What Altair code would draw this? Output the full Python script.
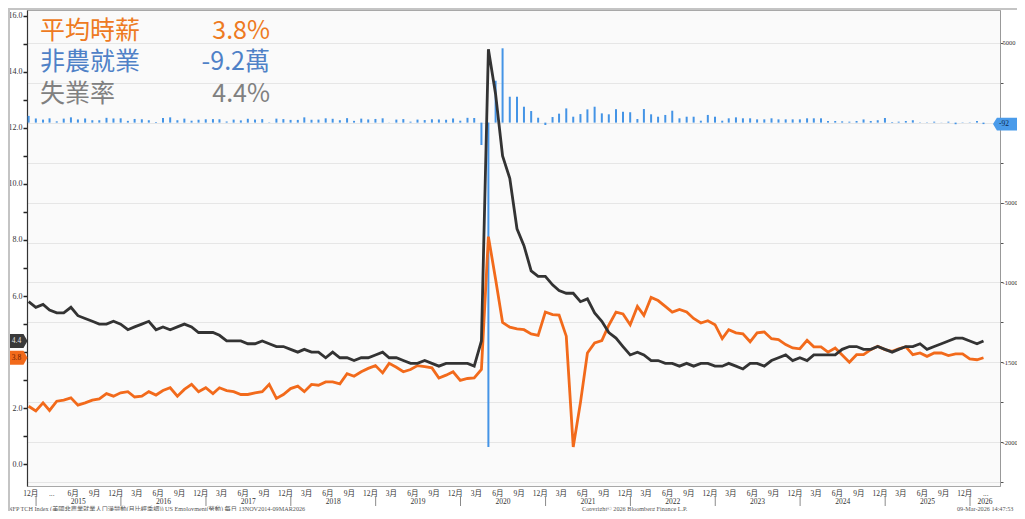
import calendar
import altair as alt
import pandas as pd

# ---------------- data ----------------
def month_ends(y0, m0, n):
    out = []
    y, m = y0, m0
    for _ in range(n):
        out.append(f"{y}-{m:02d}-{calendar.monthrange(y, m)[1]:02d}")
        m += 1
        if m > 12:
            m, y = 1, y + 1
    return out

months = month_ends(2014, 11, 136)

unemployment = [5.8, 5.6,
    5.7, 5.5, 5.4, 5.4, 5.6, 5.3, 5.2, 5.1, 5.0, 5.0, 5.1, 5.0,
    4.8, 4.9, 5.0, 5.1, 4.8, 4.9, 4.8, 4.9, 5.0, 4.9, 4.7, 4.7,
    4.7, 4.6, 4.4, 4.4, 4.4, 4.3, 4.3, 4.4, 4.3, 4.2, 4.2, 4.1,
    4.0, 4.1, 4.0, 4.0, 3.8, 4.0, 3.8, 3.8, 3.7, 3.8, 3.8, 3.9,
    4.0, 3.8, 3.8, 3.7, 3.6, 3.6, 3.7, 3.6, 3.5, 3.6, 3.6, 3.6,
    3.6, 3.5, 4.4, 14.8, 13.2, 11.0, 10.2, 8.4, 7.8, 6.9, 6.7, 6.7,
    6.4, 6.2, 6.1, 6.1, 5.8, 5.9, 5.4, 5.1, 4.7, 4.5, 4.2, 3.9,
    4.0, 3.9, 3.7, 3.7, 3.6, 3.6, 3.5, 3.6, 3.5, 3.6, 3.6, 3.5,
    3.5, 3.6, 3.5, 3.4, 3.6, 3.6, 3.5, 3.7, 3.8, 3.9, 3.7, 3.8,
    3.7, 3.9, 3.9, 3.9, 3.9, 4.1, 4.2, 4.2, 4.1, 4.1, 4.2, 4.1,
    4.0, 4.1, 4.2, 4.2, 4.3, 4.1, 4.2, 4.3, 4.4, 4.5, 4.5, 4.4,
    4.3, 4.4]

hourly_wage = [2.07, 1.90,
    2.19, 1.92, 2.25, 2.29, 2.37, 2.11, 2.19, 2.29, 2.33, 2.52, 2.43, 2.55,
    2.59, 2.40, 2.43, 2.59, 2.47, 2.63, 2.73, 2.43, 2.67, 2.85, 2.59, 2.73,
    2.52, 2.73, 2.63, 2.59, 2.49, 2.49, 2.55, 2.59, 2.85, 2.35, 2.49, 2.70,
    2.79, 2.59, 2.85, 2.82, 2.94, 2.94, 2.87, 3.23, 3.14, 3.30, 3.42, 3.52,
    3.26, 3.60, 3.46, 3.30, 3.38, 3.52, 3.48, 3.44, 3.08, 3.18, 3.30, 2.99,
    3.06, 3.08, 3.38, 8.12, 6.60, 5.06, 4.89, 4.83, 4.80, 4.65, 4.60, 5.43,
    5.34, 5.32, 4.57, 0.62, 2.20, 3.97, 4.33, 4.41, 4.96, 5.43, 5.36, 4.98,
    5.63, 5.31, 5.95, 5.84, 5.63, 5.43, 5.52, 5.43, 5.20, 5.04, 5.12, 4.98,
    4.48, 4.80, 4.69, 4.65, 4.37, 4.69, 4.72, 4.48, 4.45, 4.27, 4.15, 4.12,
    4.42, 4.19, 4.19, 4.00, 4.15, 3.90, 3.64, 3.91, 3.91, 4.09, 4.21, 4.09,
    4.03, 4.12, 4.19, 3.91, 3.97, 3.85, 3.97, 3.97, 3.88, 3.94, 3.94, 3.76,
    3.73, 3.80]

payrolls = [420, 260,
    190, 270, 80, 250, 330, 200, 260, 150, 150, 300, 260, 270,
    110, 230, 210, 150, 40, 290, 330, 150, 250, 120, 180, 210,
    220, 210, 70, 190, 140, 240, 190, 220, 20, 250, 220, 170,
    170, 330, 180, 190, 270, 240, 150, 280, 110, 250, 200, 230,
    270, 10, 190, 220, 60, 190, 160, 210, 200, 180, 260, 120,
    300, 290, -1400, -20300, 2620, 4650, 1620, 1620, 995, 725, 306, -150,
    350, 560, 890, 370, 535, 830, 995, 580, 520, 840, 680, 650,
    225, 850, 520, 370, 480, 745, 270, 370, 370, 120, 480, 370,
    120, 270, 330, 270, 270, 205, 205, 270, 205, 205, 205, 205,
    270, 270, 270, 100, 100, 80, 60, 100, 200, 100, 150, 290,
    40, 60, 100, 150, 20, 20, 60, -10, 60, -100, 20, 20,
    100, -92]

series_names = ["平均時薪", "非農就業", "失業率"]
series_latest = ["3.8%", "-9.2萬", "4.4%"]
tag_wage = 3.8
tag_unemp = 4.4
tag_nfp = -92
years = list(range(2015, 2027))
quarter_month_names = {12: "12月", 3: "3月", 6: "6月", 9: "9月"}
footer_source = "NFP TCH Index (美國非農業就業人口淨變動(月比經季調)) US Employment(勞動) 每日 13NOV2014-09MAR2026"
footer_copy = "Copyright© 2026 Bloomberg Finance L.P."
footer_time = "09-Mar-2026 14:47:53"

# ---------------- frames ----------------
bars_df = pd.DataFrame({"date": months, "nfp": payrolls})
lines_df = pd.concat([
    pd.DataFrame({"date": months, "v": hourly_wage, "s": "wage"}),
    pd.DataFrame({"date": months, "v": unemployment, "s": "unemp"}),
], ignore_index=True)

W, H = 973, 476
SERIF = "Liberation Serif, Noto Sans CJK TC"
CJK = "Noto Sans CJK TC"
ORANGE_LINE = "#F26A1B"
DARK_LINE = "#333333"
BLUE_BAR = "#4494E6"

dt = lambda y, m, d: alt.DateTime(year=y, month=m, date=d, utc=True)
xscale = alt.Scale(type="utc", domain=[dt(2014, 11, 23), dt(2026, 5, 10)])
left_scale = alt.Scale(domain=[-0.774, 16.203], nice=False, zero=False)
right_scale = alt.Scale(domain=[-22734, 7046], nice=False, zero=False)

month_ticks = []
q_dates, q_labels = [], []
y, m = 2014, 12
while (y, m) <= (2026, 5):
    month_ticks.append(dt(y, m, 1))
    if m in quarter_month_names:
        q_dates.append(f"{y}-{m:02d}-01")
        q_labels.append("..." if (m == 3 and y in (2015, 2026)) else quarter_month_names[m])
    m += 1
    if m > 12:
        m, y = 1, y + 1

x_month_axis = alt.Axis(values=month_ticks, labels=False, title=None,
                        grid=True, gridColor="#E9E9E9", gridWidth=1,
                        tickSize=3, tickColor="#777", domainColor="#333", domainWidth=1.2)

X = lambda: alt.X("date:T", scale=xscale, axis=None)

# NFP bars (right axis)
right_vals = list(range(5000, -22501, -2500))
bars = alt.Chart(bars_df).mark_rule(color=BLUE_BAR, strokeWidth=2).encode(
    x=X(),
    y=alt.Y("nfp:Q", scale=right_scale,
            axis=alt.Axis(orient="right", values=right_vals, title=None,
                          labelExpr="(datum.value % 5000 == 0 && datum.value != 0) ? '' + datum.value : ''",
                          grid=True, gridColor="#E6E6E6", gridWidth=1,
                          tickSize=3, tickColor="#555", domainColor="#999",
                          labelFont=SERIF, labelFontSize=6.5, labelColor="#333",
                          labelPadding=-1)),
    y2=alt.datum(0),
)

# lines (left axis)
lines = alt.Chart(lines_df).mark_line(strokeWidth=2.8).encode(
    x=alt.X("date:T", scale=xscale, axis=x_month_axis),
    y=alt.Y("v:Q", scale=left_scale,
            axis=alt.Axis(orient="left", values=list(range(0, 17)), title=None,
                          labelExpr="(datum.value % 2 == 0 && datum.value != 4) ? format(datum.value, '.1f') : ''",
                          grid=False, tickSize=4, tickWidth=1.5, tickColor="#222",
                          domainColor="#333", domainWidth=1.2,
                          labelFont=SERIF, labelFontSize=8, labelColor="#333",
                          labelPadding=1)),
    color=alt.Color("s:N", scale=alt.Scale(domain=["wage", "unemp"],
                                           range=[ORANGE_LINE, DARK_LINE]), legend=None),
)

# month labels (quarterly)
q_df = pd.DataFrame({"date": q_dates, "label": q_labels})
month_text = alt.Chart(q_df).mark_text(font=SERIF, fontSize=7.5, color="#333",
                                       baseline="middle", dx=2).encode(
    x=X(), y=alt.value(483.5), text="label:N")

# year separators and labels
sep_df = pd.DataFrame({"date": [f"{yy}-01-01" for yy in years]})
seps = alt.Chart(sep_df).mark_rule(color="#8A8A8A", strokeWidth=1).encode(
    x=X(), y=alt.value(486), y2=alt.value(496))

mid_dates = [f"{yy}-07-02" for yy in years[:-1]] + ["2026-03-06"]
year_df = pd.DataFrame({"date": mid_dates, "label": [str(yy) for yy in years]})
year_text = alt.Chart(year_df).mark_text(font=SERIF, fontSize=7.5, color="#333",
                                         baseline="middle").encode(
    x=X(), y=alt.value(491.5), text="label:N")

# left tags
TAG_R = "M-1,-0.7L0.6,-0.7L1,0L0.6,0.7L-1,0.7Z"
TAG_L = "M-1,0L-0.72,-0.45L1,-0.45L1,0.45L-0.72,0.45Z"

def left_tag(val, fill, txt_color):
    d = pd.DataFrame({"v": [val], "t": [f"{val:.1f}"]})
    base = alt.Chart(d)
    shape = base.mark_point(shape=TAG_R, filled=True, size=400, color=fill,
                            opacity=1, strokeWidth=0).encode(
        x=alt.value(-9.5), y=alt.Y("v:Q", scale=left_scale, axis=None))
    txt = base.mark_text(font=SERIF, fontSize=7.5, color=txt_color, baseline="middle").encode(
        x=alt.value(-10.5), y=alt.Y("v:Q", scale=left_scale, axis=None), text="t:N")
    return [shape, txt]

tags = left_tag(tag_unemp, "#3A3A3A", "#E8E8E8") + left_tag(tag_wage, "#F26A1B", "#6B2000")

nfp_tag_df = pd.DataFrame({"v": [tag_nfp], "t": [str(tag_nfp)]})
nfp_shape = alt.Chart(nfp_tag_df).mark_point(shape=TAG_L, filled=True, size=784,
                                             color="#4A9BEA", opacity=1, strokeWidth=0).encode(
    x=alt.value(980), y=alt.Y("v:Q", scale=right_scale, axis=None))
nfp_txt = alt.Chart(nfp_tag_df).mark_text(font=SERIF, fontSize=7.5, color="#0E2A4D",
                                          baseline="middle", align="left").encode(
    x=alt.value(972), y=alt.Y("v:Q", scale=right_scale, axis=None), text="t:N")

# legend text block
legend_colors = ["#EE7A22", "#4F81C7", "#808080"]
legend_y = [21, 52, 84]
legend_layers = []
for name, val, col, yy in zip(series_names, series_latest, legend_colors, legend_y):
    d = pd.DataFrame({"n": [name], "v": [val]})
    legend_layers.append(alt.Chart(d).mark_text(font=CJK, fontSize=25, color=col, align="left",
                                                baseline="middle").encode(
        x=alt.value(13), y=alt.value(yy), text="n:N"))
    legend_layers.append(alt.Chart(d).mark_text(font=CJK, fontSize=25, color=col, align="right",
                                                baseline="middle").encode(
        x=alt.value(243), y=alt.value(yy), text="v:N"))

# footer
footer_layers = []
for txt, xpos in zip([footer_source, footer_copy, footer_time], [-19, 555, 930]):
    d = pd.DataFrame({"t": [txt]})
    footer_layers.append(alt.Chart(d).mark_text(font=SERIF, fontSize=6.2, color="#555",
                                                align="left", baseline="middle").encode(
        x=alt.value(xpos), y=alt.value(498.8), text="t:N"))

# frame lines
frame_df = pd.DataFrame({"a": [0]})
frame_top = alt.Chart(frame_df).mark_rule(color="#C4C4C4", strokeWidth=2).encode(
    x=alt.value(-19), x2=alt.value(990), y=alt.value(-1))
frame_left = alt.Chart(frame_df).mark_rule(color="#C4C4C4", strokeWidth=2).encode(
    x=alt.value(-18), y=alt.value(-2), y2=alt.value(501))

chart = alt.layer(
    bars, lines, month_text, seps, year_text, *tags, nfp_shape, nfp_txt,
    *legend_layers, *footer_layers, frame_top, frame_left
).resolve_scale(
    y="independent"
).properties(
    width=W, height=H,
    autosize=alt.AutoSizeParams(type="none"),
    padding={"left": 19, "top": 2, "right": 17, "bottom": 25},
    background="white",
).configure_view(
    fill="#FAFAFA", stroke="#A8A8A8", strokeWidth=1
)

chart.save("out.html", embed_options={"renderer": "svg", "actions": False})
